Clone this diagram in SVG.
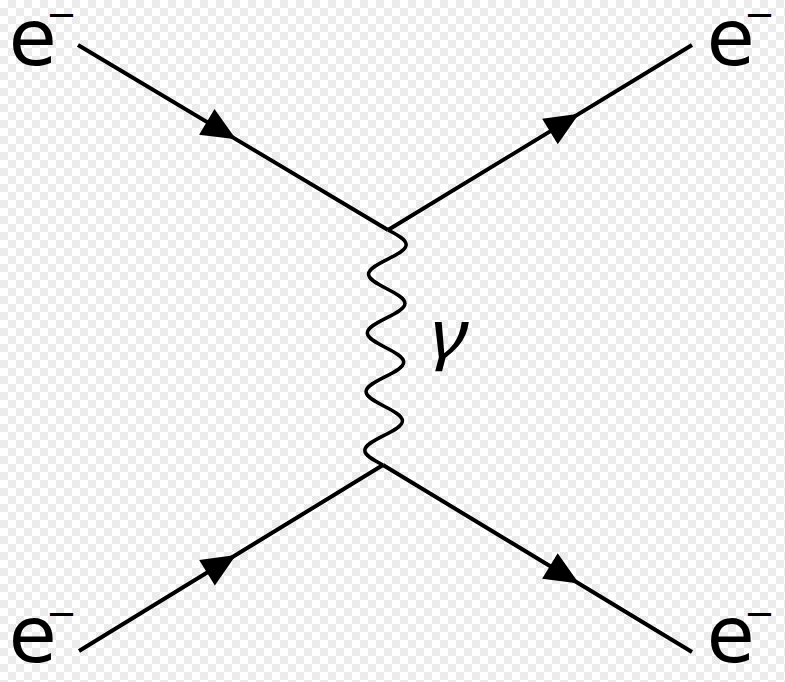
<svg xmlns="http://www.w3.org/2000/svg" xmlns:xlink="http://www.w3.org/1999/xlink" width="785" height="682" viewBox="0 0 785 682">
  <defs>
    <pattern id="checker" x="0" y="0" width="16" height="16" patternUnits="userSpaceOnUse">
      <rect x="0" y="0" width="16" height="16" fill="#ffffff"/>
      <rect x="8" y="0" width="8" height="8" fill="#ececec"/>
      <rect x="0" y="8" width="8" height="8" fill="#ececec"/>
    </pattern>
    <path id="arrowhead" d="M0,0 L-34,-15 L-34,15 Z" fill="#000"/>
  </defs>
  <style>
    .fermion { stroke: #000; stroke-width: 4; fill: none; stroke-linecap: butt; }
    .photon { stroke: #000; stroke-width: 3.5; fill: none; }
    .lbl { font-family: "DejaVu Sans", "Liberation Sans", sans-serif; font-size: 78px; fill: #000; }
    .sup { font-size: 37px; }
    .greek { font-family: "Noto Sans", "Liberation Serif", serif; font-style: italic; font-size: 65px; fill: #000; }
  </style>
  <rect x="0" y="0" width="785" height="682" fill="url(#checker)"/>

  <g id="connectors">
    <line class="fermion" x1="78" y1="45" x2="388" y2="230"/>
    <line class="fermion" x1="388" y1="230" x2="692" y2="45"/>
    <line class="fermion" x1="79" y1="651" x2="383" y2="465"/>
    <line class="fermion" x1="383" y1="465" x2="692" y2="652"/>
    <path class="photon" transform="translate(388,230) skewX(-1.22)" d="M0,0
      c 9.48,4.79 18.5,9.37 18.5,14.6875 c 0,5.3175 -9.02,9.8975 -18.5,14.6875 c -9.48,4.79 -18.5,9.37 -18.5,14.6875 c 0,5.3175 9.02,9.8975 18.5,14.6875
      c 9.48,4.79 18.5,9.37 18.5,14.6875 c 0,5.3175 -9.02,9.8975 -18.5,14.6875 c -9.48,4.79 -18.5,9.37 -18.5,14.6875 c 0,5.3175 9.02,9.8975 18.5,14.6875
      c 9.48,4.79 18.5,9.37 18.5,14.6875 c 0,5.3175 -9.02,9.8975 -18.5,14.6875 c -9.48,4.79 -18.5,9.37 -18.5,14.6875 c 0,5.3175 9.02,9.8975 18.5,14.6875
      c 9.48,4.79 18.5,9.37 18.5,14.6875 c 0,5.3175 -9.02,9.8975 -18.5,14.6875 c -9.48,4.79 -18.5,9.37 -18.5,14.6875 c 0,5.3175 9.02,9.8975 18.5,14.6875"/>
    <use xlink:href="#arrowhead" href="#arrowhead" transform="translate(236,139.3) rotate(30.83)"/>
    <use xlink:href="#arrowhead" href="#arrowhead" transform="translate(579,113.8) rotate(-31.32)"/>
    <use xlink:href="#arrowhead" href="#arrowhead" transform="translate(236,555) rotate(-31.46)"/>
    <use xlink:href="#arrowhead" href="#arrowhead" transform="translate(579,583.6) rotate(31.18)"/>
  </g>

  <g id="electron-in-top">
    <text class="lbl" x="8.7" y="65">e<tspan class="sup" x="46" y="27">−</tspan></text>
  </g>
  <g id="electron-out-top">
    <text class="lbl" x="706.7" y="65">e<tspan class="sup" x="744" y="27">−</tspan></text>
  </g>
  <g id="electron-in-bottom">
    <text class="lbl" x="8.7" y="662">e<tspan class="sup" x="46" y="626">−</tspan></text>
  </g>
  <g id="electron-out-bottom">
    <text class="lbl" x="706.7" y="662">e<tspan class="sup" x="744" y="626">−</tspan></text>
  </g>
  <g id="photon-label">
    <text class="greek" transform="translate(431,357) scale(1.22,1)" x="0" y="0">γ</text>
  </g>
</svg>
